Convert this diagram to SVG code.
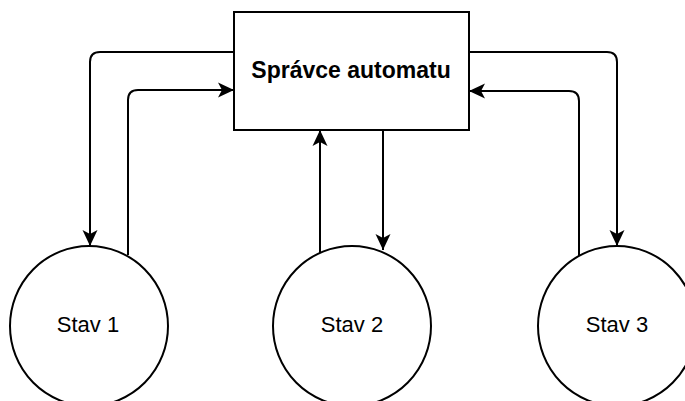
<svg xmlns="http://www.w3.org/2000/svg" width="685" height="401" viewBox="0 0 685 401">
<style>
.box{fill:#fff;stroke:#000;stroke-width:2}
.conn{fill:none;stroke:#000;stroke-width:2}
.t{font-family:"Liberation Sans",Arial,sans-serif;font-size:22px;fill:#000;text-anchor:middle}
.b{font-weight:bold;font-size:23px}
</style>
<defs>
<marker id="arr" markerUnits="userSpaceOnUse" markerWidth="18" markerHeight="18" viewBox="0 0 18 18" refX="16" refY="9" orient="auto">
<path d="M0,1.5 L16,9 L0,16.5 L4,9 Z" fill="#000"/>
</marker>
</defs>
<rect width="685" height="401" fill="#fff"/>
<g id="connectors">
<path class="conn" d="M234,52 H100 Q90,52 90,62 V246" marker-end="url(#arr)"/>
<path class="conn" d="M128,255 V100 Q128,90 138,90 H234" marker-end="url(#arr)"/>
<path class="conn" d="M320,253 V130" marker-end="url(#arr)"/>
<path class="conn" d="M383,130 V250" marker-end="url(#arr)"/>
<path class="conn" d="M469,52 H607 Q617,52 617,62 V246" marker-end="url(#arr)"/>
<path class="conn" d="M579,256 V101 Q579,91 569,91 H469" marker-end="url(#arr)"/>
</g>
<g id="spravce">
<rect class="box" x="234" y="12" width="235" height="118"/>
<text class="t b" x="351" y="78">Správce automatu</text>
</g>
<g id="stav1">
<ellipse class="box" cx="89" cy="326" rx="79" ry="80"/>
<text class="t" x="88" y="332">Stav 1</text>
</g>
<g id="stav2">
<ellipse class="box" cx="352" cy="326" rx="79" ry="80"/>
<text class="t" x="352" y="332">Stav 2</text>
</g>
<g id="stav3">
<ellipse class="box" cx="617" cy="326" rx="79" ry="80"/>
<text class="t" x="617" y="332">Stav 3</text>
</g>
</svg>
